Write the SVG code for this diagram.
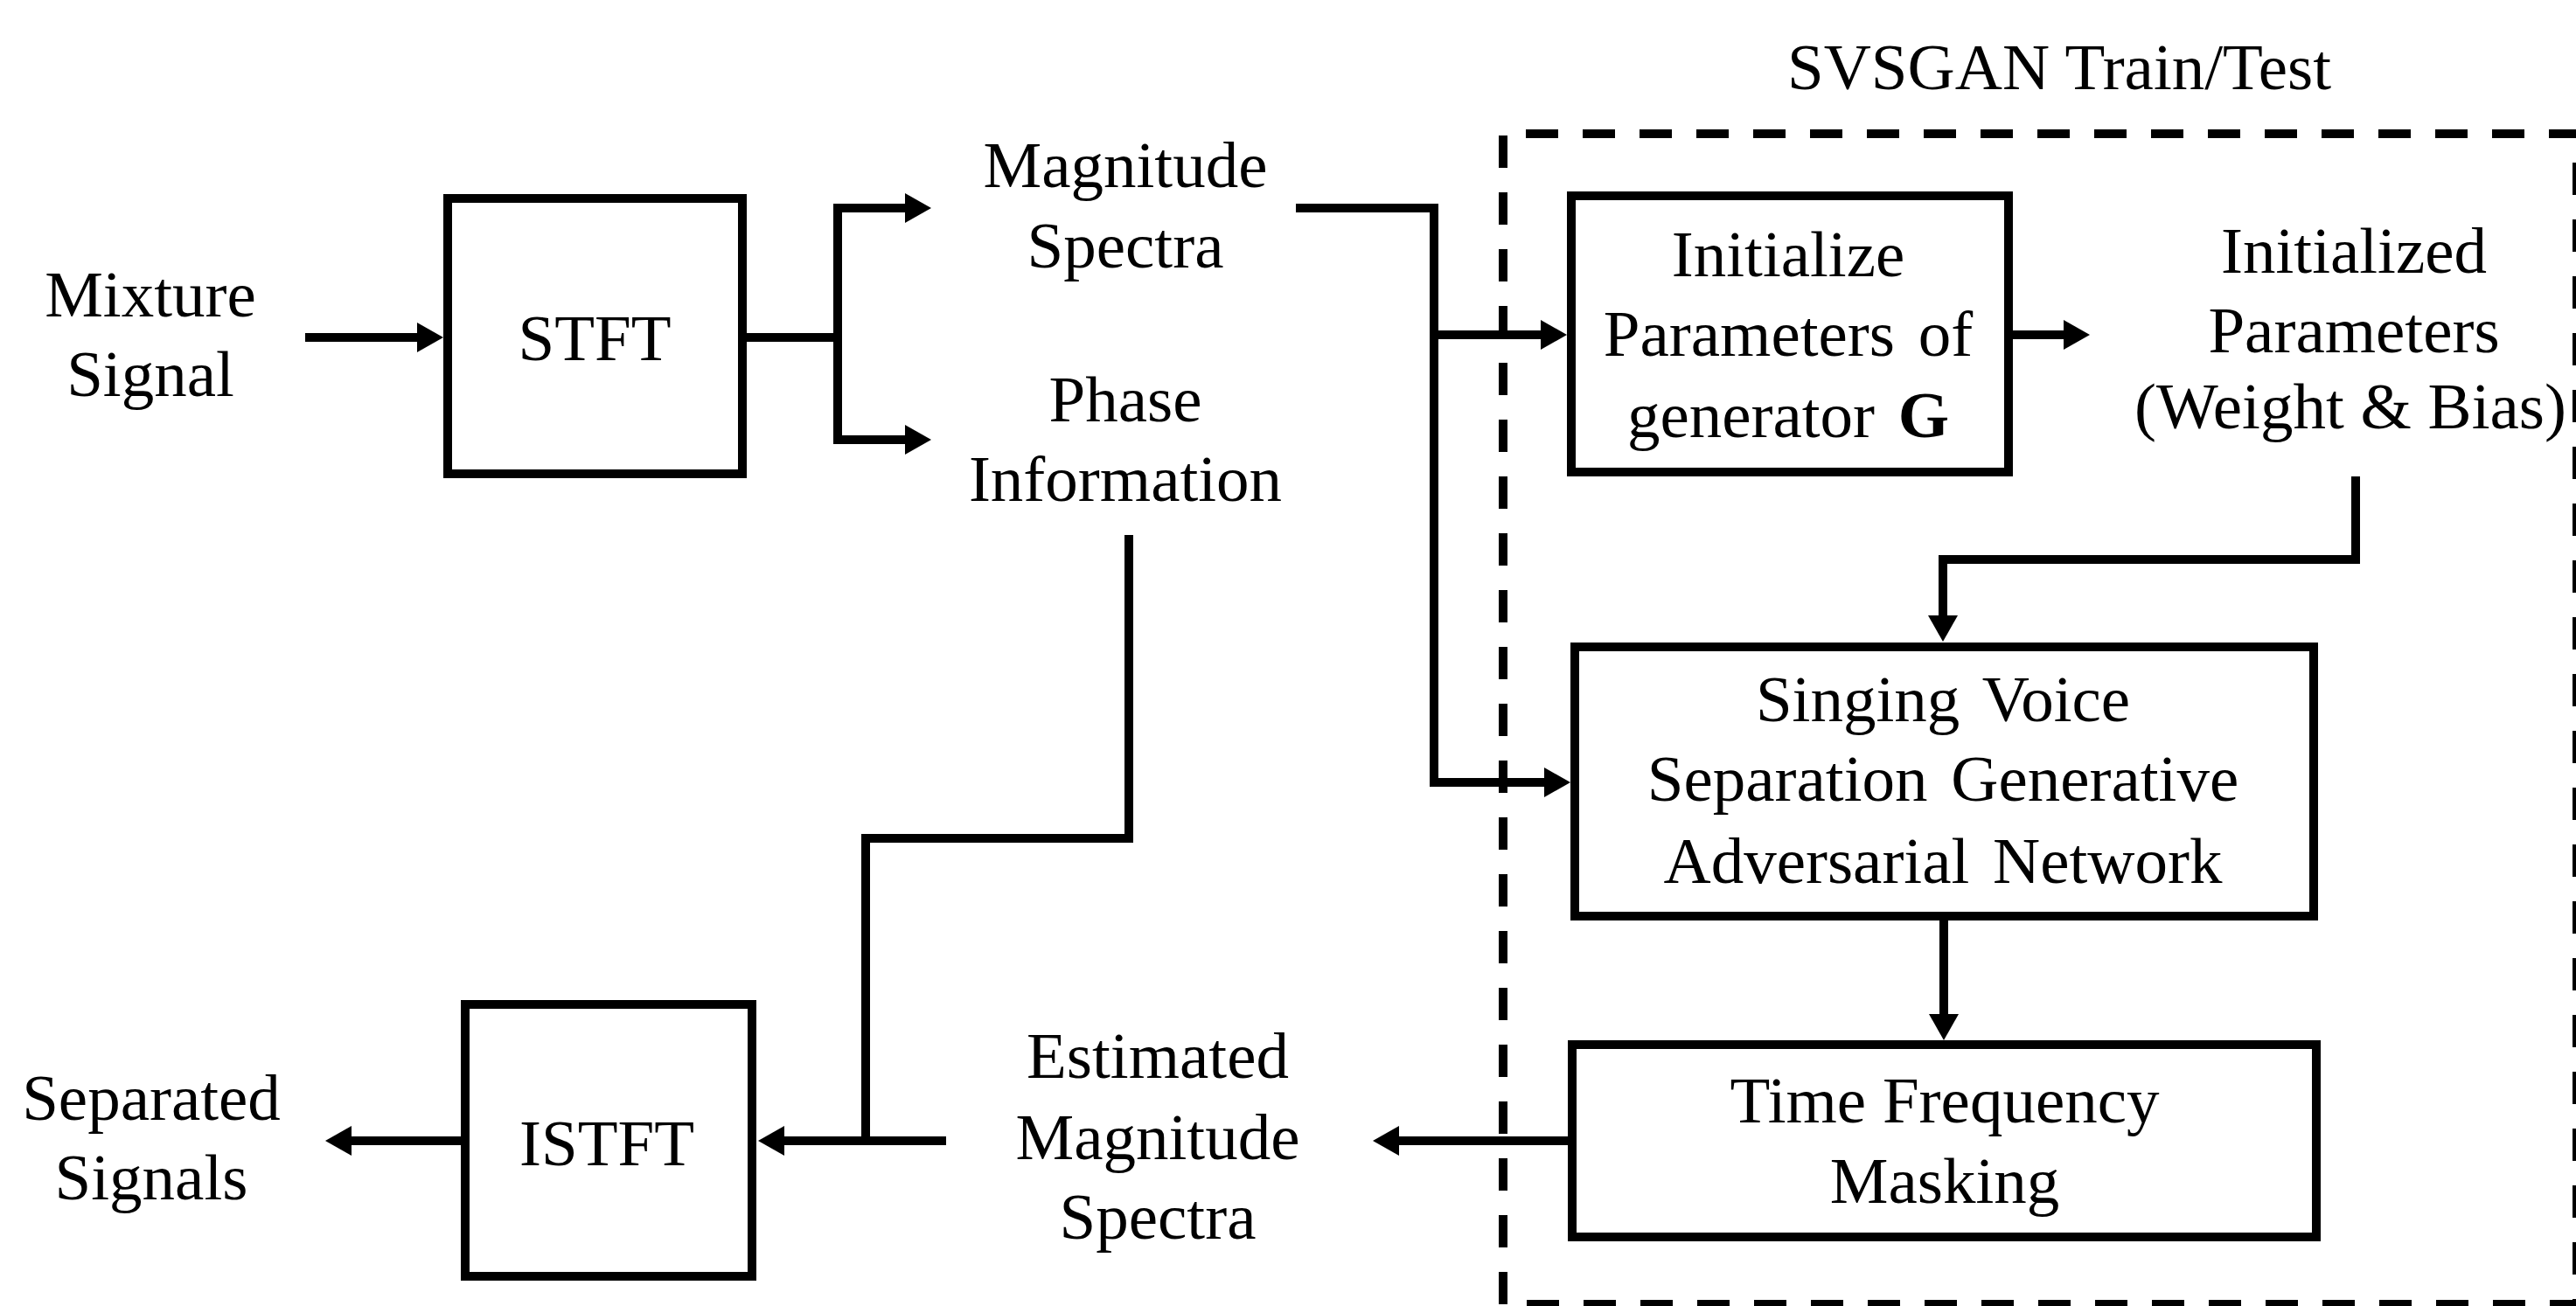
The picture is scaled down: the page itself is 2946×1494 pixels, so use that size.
<svg xmlns="http://www.w3.org/2000/svg" width="2946" height="1494" viewBox="0 0 2946 1494">
<style>
  text { font-family: "Liberation Serif", "Times New Roman", serif; font-size: 75px; fill: #000; text-anchor: middle; }
  .box { fill: #fff; stroke: #000; stroke-width: 10; }
  .wire { fill: none; stroke: #000; stroke-width: 10; stroke-linejoin: miter; }
  .dash { fill: none; stroke: #000; stroke-width: 10; stroke-dasharray: 37 28; }
  .ws { word-spacing: 8px; }
</style>
<defs>
  <marker id="arr" viewBox="0 0 30 34" markerWidth="30" markerHeight="34" markerUnits="userSpaceOnUse" refX="10" refY="17" orient="auto">
    <path d="M0,0 L30,17 L0,34 z" fill="#000"/>
  </marker>
</defs>
<rect width="2946" height="1494" fill="#fff"/>

<g id="svsgan-region">
  <path class="dash" d="M1719,1492 L1719,153 L2947,153 L2947,1492 Z"/>
  <text x="2355" y="102">SVSGAN Train/Test</text>
</g>

<g id="connectors">
  <path class="wire" d="M349,386 L487,386" marker-end="url(#arr)"/>
  <path class="wire" d="M849,386 L958,386"/>
  <path class="wire" d="M1045,238 L958,238 L958,503 L1045,503"/>
  <path class="wire" d="M958,238 L1045,238" marker-end="url(#arr)"/>
  <path class="wire" d="M958,503 L1045,503" marker-end="url(#arr)"/>
  <path class="wire" d="M1482,238 L1640,238 L1640,895 L1776,895" marker-end="url(#arr)"/>
  <path class="wire" d="M1640,383 L1772,383" marker-end="url(#arr)"/>
  <path class="wire" d="M2297,383 L2370,383" marker-end="url(#arr)"/>
  <path class="wire" d="M2694,545 L2694,640 L2222,640 L2222,714" marker-end="url(#arr)"/>
  <path class="wire" d="M2223,1048 L2223,1170" marker-end="url(#arr)"/>
  <path class="wire" d="M1798,1305 L1590,1305" marker-end="url(#arr)"/>
  <path class="wire" d="M1291,612 L1291,959 L990,959 L990,1305"/>
  <path class="wire" d="M1082,1305 L887,1305" marker-end="url(#arr)"/>
  <path class="wire" d="M532,1305 L392,1305" marker-end="url(#arr)"/>
</g>

<g id="mixture-signal">
  <text x="172" y="362">Mixture</text>
  <text x="172" y="453">Signal</text>
</g>

<g id="stft">
  <rect class="box" x="512" y="227" width="337" height="315"/>
  <text x="680" y="412">STFT</text>
</g>

<g id="magnitude-spectra">
  <text x="1287" y="214">Magnitude</text>
  <text x="1287" y="306">Spectra</text>
</g>

<g id="phase-information">
  <text x="1287" y="482">Phase</text>
  <text x="1287" y="573">Information</text>
</g>

<g id="initialize-params">
  <rect class="box" x="1797" y="224" width="500" height="316"/>
  <text x="2045" y="316">Initialize</text>
  <text class="ws" x="2045" y="407">Parameters of</text>
  <text class="ws" x="2045" y="500">generator <tspan font-weight="bold">G</tspan></text>
</g>

<g id="initialized-parameters">
  <text x="2692" y="312">Initialized</text>
  <text x="2692" y="403">Parameters</text>
  <text x="2688" y="490">(Weight &amp; Bias)</text>
</g>

<g id="svsgan">
  <rect class="box" x="1801" y="740" width="845" height="308"/>
  <text class="ws" x="2222" y="825">Singing Voice</text>
  <text class="ws" x="2222" y="916">Separation Generative</text>
  <text class="ws" x="2222" y="1010">Adversarial Network</text>
</g>

<g id="time-frequency-masking">
  <rect class="box" x="1798" y="1195" width="851" height="220"/>
  <text x="2224" y="1284">Time Frequency</text>
  <text x="2224" y="1376">Masking</text>
</g>

<g id="estimated-magnitude-spectra">
  <text x="1324" y="1233">Estimated</text>
  <text x="1324" y="1326">Magnitude</text>
  <text x="1324" y="1417">Spectra</text>
</g>

<g id="istft">
  <rect class="box" x="532" y="1149" width="328" height="311"/>
  <text x="694" y="1333">ISTFT</text>
</g>

<g id="separated-signals">
  <text x="173" y="1281">Separated</text>
  <text x="173" y="1372">Signals</text>
</g>
</svg>
